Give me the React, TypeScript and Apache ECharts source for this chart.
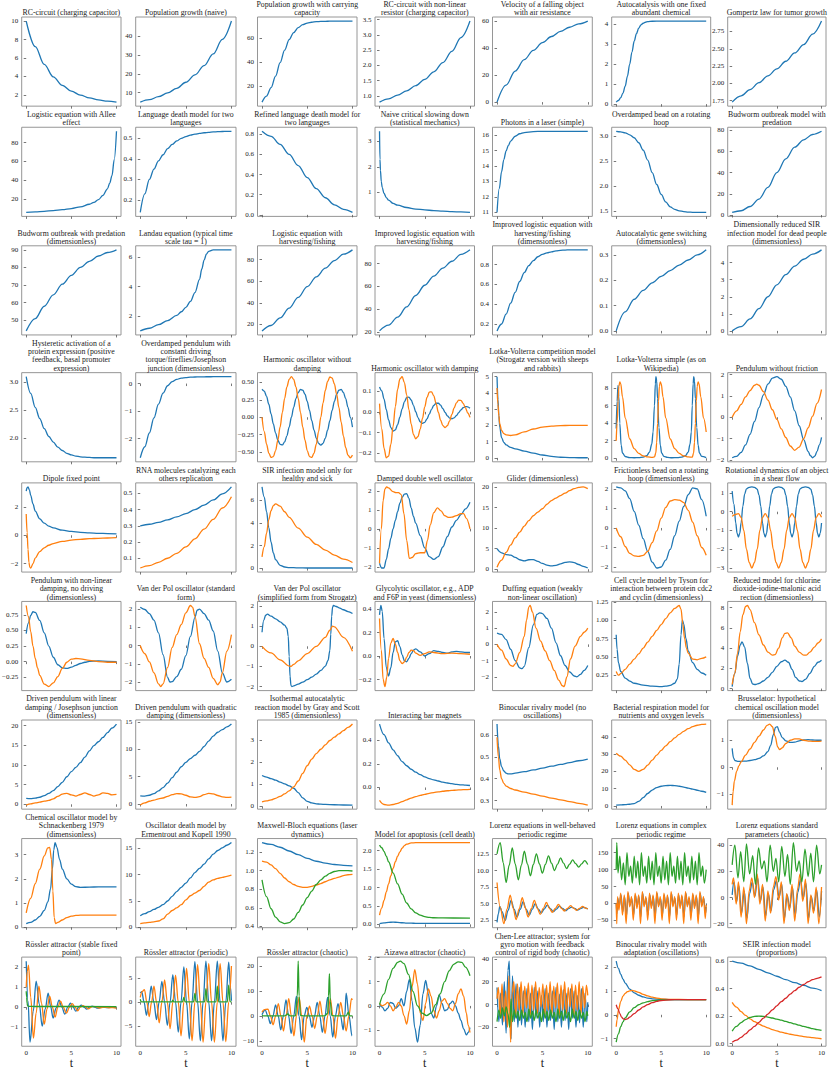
import React, { useEffect, useRef } from "react";
import * as echarts from "echarts";

type Pt = [number, number];
type S = number[] | Pt[];

// ---------------- Row 1 ----------------
const rcCharge = [10, 7.23, 5.3, 3.96, 3.04, 2.41, 1.98, 1.67, 1.46, 1.32, 1.22];
const popNaive = [5, 6.27, 7.85, 9.84, 12.3, 15.5, 19.4, 24.3, 30.5, 38.2, 47.9];
const popCapacity = [7, 12, 19, 28.5, 39.6, 50, 58.7, 64.5, 68.6, 71, 72.3, 73, 73.5, 73.7, 73.8, 73.9, 74, 74, 74, 74, 74];
const rcNonlinear = [0.8, 0.908, 1.026, 1.166, 1.338, 1.543, 1.791, 2.093, 2.459, 2.911, 3.45];
const fallingVelocity = [0, 12.7, 23.1, 31.6, 38.5, 44.2, 48.8, 52.6, 55.7, 58.2, 60.3];
const autocatalysis: Pt[] = [[0, 0.1], [0.25, 0.18], [0.5, 0.32], [0.75, 0.55], [1, 0.9], [1.25, 1.4], [1.5, 2.0], [1.75, 2.6], [2, 3.14], [2.25, 3.52], [2.5, 3.79], [2.75, 3.96], [3, 4.04], [3.25, 4.09], [3.5, 4.12], [4, 4.14], [5, 4.15], [10, 4.15]];
const gompertz = [1.73, 1.82, 1.91, 2.01, 2.11, 2.21, 2.32, 2.44, 2.56, 2.71, 2.9];

// ---------------- Row 2 ----------------
const allee: Pt[] = [[0, 6], [1, 6.5], [2, 7.1], [3, 7.9], [4, 8.8], [5, 10], [6, 11.8], [7, 14.6], [7.5, 16.6], [8, 19.5], [8.5, 24], [9, 31], [9.25, 37], [9.5, 45], [9.75, 62], [10, 92]];
const langDeath = [0.14, 0.23, 0.3, 0.35, 0.39, 0.42, 0.45, 0.47, 0.487, 0.5, 0.508, 0.515, 0.52, 0.524, 0.527, 0.529, 0.531, 0.532, 0.533, 0.534, 0.534];
const langRefined = [0.83, 0.78, 0.7, 0.6, 0.49, 0.37, 0.26, 0.17, 0.1, 0.055, 0.025];
const slowingDown: Pt[] = [[0, 3.4], [0.05, 2.3], [0.1, 1.87], [0.2, 1.42], [0.3, 1.19], [0.5, 0.96], [0.75, 0.8], [1, 0.7], [1.5, 0.57], [2, 0.5], [3, 0.41], [4, 0.35], [5, 0.315], [6, 0.29], [7, 0.27], [8, 0.25], [9, 0.235], [10, 0.22]];
const laserPhotons: Pt[] = [[0, 11], [0.25, 12.55], [0.5, 13.64], [0.75, 14.42], [1, 14.98], [1.25, 15.34], [1.5, 15.62], [2, 15.93], [2.5, 16.09], [3, 16.17], [4, 16.23], [5, 16.25], [10, 16.25]];
const beadHoop = [3.1, 3.09, 3.07, 3.03, 2.97, 2.87, 2.72, 2.52, 2.27, 2.03, 1.83, 1.68, 1.58, 1.53, 1.5, 1.485, 1.475, 1.47, 1.47, 1.47, 1.47];
const budworm = [2.5, 4, 8, 15, 26, 40, 53, 64, 71, 76, 79];

// ---------------- Row 3 ----------------
const budwormDimless = [44, 51, 58, 64.5, 70.5, 75.5, 80, 83.5, 86.5, 88.5, 90];
const landau: Pt[] = [[0, 1.0], [1, 1.18], [2, 1.42], [3, 1.7], [4, 2.05], [4.5, 2.3], [5, 2.6], [5.5, 3.0], [6, 3.6], [6.5, 4.5], [6.75, 5.2], [7, 5.8], [7.25, 6.2], [7.5, 6.4], [8, 6.5], [9, 6.5], [10, 6.5]];
const logHarvest = [14, 19, 26, 35, 45, 55, 64, 72, 79, 85, 89];
const improvedHarvest = [21, 26, 33, 42, 52, 61, 69, 76, 82, 88, 92];
const improvedDimless = [0.13, 0.2, 0.3, 0.41, 0.52, 0.63, 0.72, 0.79, 0.84, 0.88, 0.905, 0.92, 0.93, 0.94, 0.945, 0.948, 0.95, 0.95, 0.95, 0.95, 0.95];
const geneSwitch = [0, 0.075, 0.125, 0.16, 0.19, 0.215, 0.238, 0.26, 0.28, 0.3, 0.32];
const sirDead = [0, 0.25, 0.7, 1.3, 2.0, 2.7, 3.3, 3.8, 4.2, 4.5, 4.75];

// ---------------- Row 4 ----------------
const hysteretic = [3.1, 2.8, 2.55, 2.35, 2.17, 2.03, 1.93, 1.84, 1.78, 1.73, 1.7, 1.68, 1.665, 1.66, 1.655, 1.65, 1.65, 1.65, 1.65, 1.65, 1.65];
const overdampedPend = [-2.7, -2.3, -1.8, -1.25, -0.75, -0.35, -0.08, 0.07, 0.15, 0.2, 0.22, 0.235, 0.24, 0.245, 0.247, 0.248, 0.25, 0.25, 0.25, 0.25, 0.25];
const harmonicX = [0.4, 0.374, 0.299, 0.186, 0.048, -0.096, -0.227, -0.329, -0.388, -0.397, -0.354, -0.266, -0.141, 0, 0.142, 0.266, 0.354, 0.397, 0.388, 0.329, 0.227, 0.096, -0.048, -0.186, -0.3, -0.374, -0.4, -0.374, -0.298, -0.186, -0.048, 0.096, 0.227, 0.329, 0.388, 0.397, 0.354, 0.265, 0.142, 0, -0.142];
const harmonicV = [0, -0.206, -0.385, -0.513, -0.576, -0.563, -0.477, -0.329, -0.139, 0.07, 0.27, 0.433, 0.542, 0.58, 0.542, 0.434, 0.27, 0.07, -0.139, -0.329, -0.477, -0.563, -0.576, -0.513, -0.385, -0.206, 0, 0.206, 0.387, 0.513, 0.576, 0.563, 0.477, 0.329, 0.139, -0.07, -0.27, -0.434, -0.542, -0.58, -0.542];
const dampedX = [0.12, 0.1017, 0.0617, 0.0107, -0.0388, -0.0757, -0.0925, -0.087, -0.0618, -0.0249, 0.015, 0.0485, 0.0683, 0.0711, 0.0574, 0.0316, 0.0007, -0.0277, -0.0478, -0.0557, -0.0503, -0.0338, -0.0108, 0.0125, 0.0316, 0.0417, 0.0417, 0.0323, 0.0159, -0.0027, -0.019, -0.0301, -0.0333, -0.0288, -0.0183, -0.0041, 0.0096, 0.0202, 0.0254, 0.0244, 0.0179];
const dampedV = [0.04, -0.082, -0.176, -0.2215, -0.2135, -0.1576, -0.0705, 0.0257, 0.1088, 0.1589, 0.1699, 0.1413, 0.0825, 0.0102, -0.0588, -0.1092, -0.1297, -0.1193, -0.083, -0.0315, 0.0239, 0.0695, 0.0955, 0.0968, 0.077, 0.0408, -0.0016, -0.0403, -0.0665, -0.0754, -0.0666, -0.0433, -0.0121, 0.0194, 0.0438, 0.0565, 0.0552, 0.0415, 0.0194, -0.0053, -0.0267];
const lvCompA: Pt[] = [[0, 5.0], [0.1, 3.6], [0.2, 2.6], [0.3, 1.9], [0.5, 1.25], [0.75, 0.95], [1, 0.8], [1.5, 0.65], [2, 0.56], [3, 0.42], [4, 0.3], [5, 0.18], [6, 0.09], [7, 0.04], [8, 0.02], [9, 0.01], [10, 0.01]];
const lvCompB: Pt[] = [[0, 4.3], [0.1, 3.3], [0.2, 2.6], [0.3, 2.1], [0.5, 1.7], [0.75, 1.5], [1, 1.42], [1.5, 1.38], [2, 1.42], [3, 1.6], [4, 1.78], [5, 1.9], [6, 1.96], [7, 1.99], [8, 2.0], [9, 2.0], [10, 2.0]];
const lvPrey: Pt[] = [[0, 3.4], [0.1, 6.5], [0.2, 8.3], [0.3, 7.0], [0.4, 4.0], [0.55, 1.5], [0.7, 0.6], [1, 0.2], [1.5, 0.08], [2, 0.06], [2.5, 0.08], [3, 0.14], [3.4, 0.3], [3.7, 0.7], [3.95, 1.6], [4.1, 3.0], [4.25, 6.0], [4.35, 8.5], [4.42, 9.3], [4.5, 8.8], [4.6, 6.8], [4.75, 3.5], [4.9, 1.5], [5.05, 0.6], [5.3, 0.22], [5.7, 0.1], [6.2, 0.06], [6.8, 0.08], [7.3, 0.14], [7.7, 0.3], [8.0, 0.7], [8.2, 1.6], [8.35, 3.0], [8.45, 6.0], [8.55, 8.5], [8.62, 9.3], [8.7, 8.8], [8.8, 6.8], [8.95, 3.5], [9.1, 1.5], [9.25, 0.6], [9.5, 0.22], [10, 0.08]];
const lvPred: Pt[] = [[0, 2.0], [0.1, 4.0], [0.2, 6.5], [0.3, 8.2], [0.4, 8.7], [0.5, 8.5], [0.7, 7.0], [1, 4.6], [1.5, 2.2], [2, 1.1], [2.5, 0.55], [3, 0.28], [3.5, 0.15], [4, 0.1], [4.25, 0.15], [4.4, 0.6], [4.5, 1.8], [4.6, 4.0], [4.7, 6.5], [4.8, 8.2], [4.9, 8.7], [5.0, 8.5], [5.2, 7.0], [5.5, 4.6], [6, 2.2], [6.5, 1.1], [7, 0.55], [7.5, 0.28], [8, 0.15], [8.45, 0.12], [8.6, 0.6], [8.7, 1.8], [8.8, 4.0], [8.9, 6.5], [9.0, 8.2], [9.1, 8.7], [9.2, 8.5], [9.4, 7.0], [9.7, 4.6], [10, 3.0]];
const pendAngle: Pt[] = [[0, -1.9], [0.5, -1.84], [1, -1.65], [1.5, -1.3], [2, -0.8], [2.5, -0.2], [3, 0.45], [3.5, 1.05], [4, 1.55], [4.5, 1.83], [5, 1.9], [5.5, 1.78], [6, 1.45], [6.5, 0.95], [7, 0.3], [7.5, -0.4], [8, -1.05], [8.5, -1.6], [8.75, -1.8], [9, -1.9], [9.25, -1.82], [9.5, -1.6], [9.75, -1.3], [10, -0.95]];
const pendVel: Pt[] = [[0, 0], [0.5, 0.3], [1, 0.6], [1.5, 0.95], [2, 1.25], [2.5, 1.5], [2.75, 1.55], [3, 1.5], [3.5, 1.2], [4, 0.8], [4.5, 0.35], [5, -0.1], [5.5, -0.55], [6, -0.95], [6.5, -1.35], [7, -1.55], [7.5, -1.4], [8, -1.0], [8.5, -0.5], [9, 0.05], [9.5, 0.65], [10, 1.3]];

// ---------------- Row 5 ----------------
const dipoleA: Pt[] = [[0, 3.1], [0.1, 3.35], [0.2, 3.4], [0.35, 3.2], [0.5, 2.8], [0.75, 2.2], [1, 1.7], [1.5, 1.15], [2, 0.85], [2.5, 0.65], [3, 0.52], [4, 0.36], [5, 0.27], [6, 0.21], [7, 0.17], [8, 0.14], [9, 0.12], [10, 0.1]];
const dipoleB: Pt[] = [[0, 1.5], [0.1, 0.2], [0.2, -1.0], [0.3, -1.9], [0.4, -2.25], [0.5, -2.3], [0.75, -2.0], [1, -1.6], [1.5, -1.15], [2, -0.88], [2.5, -0.7], [3, -0.58], [4, -0.43], [5, -0.34], [6, -0.28], [7, -0.24], [8, -0.21], [9, -0.19], [10, -0.17]];
const rnaA = [0.3, 0.31, 0.322, 0.337, 0.355, 0.376, 0.4, 0.428, 0.46, 0.497, 0.54];
const rnaB = [0.04, 0.055, 0.075, 0.1, 0.13, 0.17, 0.22, 0.28, 0.34, 0.41, 0.48];
const sirHealthy: Pt[] = [[0, 7.2], [0.25, 6.3], [0.5, 5.0], [0.75, 3.6], [1, 2.3], [1.25, 1.35], [1.5, 0.75], [2, 0.25], [2.5, 0.1], [3, 0.05], [4, 0.02], [5, 0.01], [10, 0.01]];
const sirSick: Pt[] = [[0, 1.0], [0.25, 1.9], [0.5, 3.1], [0.75, 4.3], [1, 5.1], [1.25, 5.55], [1.5, 5.7], [2, 5.5], [2.5, 5.0], [3, 4.5], [4, 3.55], [5, 2.75], [6, 2.1], [7, 1.6], [8, 1.15], [9, 0.8], [10, 0.5]];
const doubleWellX: Pt[] = [[0, -1.8], [0.25, -2.05], [0.5, -2.05], [0.75, -1.6], [1, -1.05], [1.25, -0.5], [1.5, 0.0], [1.75, 0.45], [2, 0.9], [2.25, 1.35], [2.5, 1.65], [2.75, 1.82], [3, 1.85], [3.25, 1.6], [3.5, 1.1], [3.75, 0.65], [4, 0.3], [4.5, -0.35], [5, -1.0], [5.5, -1.45], [6, -1.6], [6.5, -1.45], [7, -0.95], [7.5, -0.4], [8, 0.1], [8.5, 0.45], [9, 0.75], [9.5, 1.05], [10, 1.4]];
const doubleWellV: Pt[] = [[0, -1.8], [0.2, 0.0], [0.4, 1.5], [0.6, 2.1], [0.8, 2.2], [1.0, 2.15], [1.5, 1.95], [1.8, 1.9], [2.1, 1.9], [2.4, 1.8], [2.7, 0.8], [3.0, -0.6], [3.3, -1.55], [3.6, -1.5], [4.0, -1.3], [4.5, -1.25], [5.0, -1.25], [5.3, -0.6], [5.6, 0.2], [6.0, 0.85], [6.4, 1.1], [6.8, 0.95], [7.2, 0.7], [7.6, 0.6], [8.0, 0.62], [8.5, 0.7], [9.0, 0.8], [9.3, 0.8], [9.6, 0.55], [10, 0.0]];
const gliderA = [5.0, 4.0, 3.55, 3.45, 2.9, 2.3, 2.05, 2.3, 2.35, 1.9, 1.4, 1.0, 0.8, 0.95, 1.3, 1.65, 1.8, 1.6, 1.15, 0.7, 0.3];
const gliderB = [0.5, 2.2, 4.1, 5.9, 7.6, 9.0, 10.5, 11.8, 13.0, 13.9, 14.7, 15.8, 16.7, 17.3, 17.9, 18.5, 19.1, 19.6, 19.9, 20.0, 19.6];
const hoopAngle = [2.1, 2.05, 1.9, 1.5, 0.85, 0.15, -0.55, -1.2, -1.75, -2.05, -2.0, -1.65, -1.1, -0.4, 0.35, 1.1, 1.7, 2.05, 2.0, 1.45, 0.6];
const hoopVel = [0, -0.45, -0.95, -1.3, -1.43, -1.45, -1.4, -1.2, -0.75, -0.15, 0.5, 1.05, 1.38, 1.45, 1.43, 1.3, 0.9, 0.3, -0.4, -1.0, -1.4];
const shearA: Pt[] = [[0, 1.1], [0.2, 0.4], [0.4, -0.6], [0.55, -1.15], [0.7, -1.35], [0.85, -1.15], [1.0, -0.6], [1.2, 0.3], [1.4, 0.95], [1.6, 1.22], [1.9, 1.3], [2.2, 1.32], [2.5, 1.3], [2.8, 1.2], [3.0, 0.9], [3.2, 0.3], [3.4, -0.6], [3.55, -1.15], [3.7, -1.35], [3.85, -1.15], [4.0, -0.6], [4.2, 0.3], [4.4, 0.95], [4.6, 1.22], [4.9, 1.3], [5.2, 1.32], [5.5, 1.3], [5.8, 1.2], [6.0, 0.9], [6.2, 0.3], [6.4, -0.6], [6.55, -1.15], [6.7, -1.35], [6.85, -1.15], [7.0, -0.6], [7.2, 0.3], [7.4, 0.95], [7.6, 1.22], [7.9, 1.3], [8.2, 1.32], [8.5, 1.3], [8.8, 1.2], [9.0, 0.9], [9.2, 0.3], [9.4, -0.6], [9.55, -1.15], [9.7, -1.35], [9.85, -1.15], [10, -0.6]];
const shearB: Pt[] = [[0, -0.25], [0.3, -0.15], [0.7, -0.1], [1.0, -0.3], [1.3, -1.0], [1.6, -2.0], [1.9, -2.7], [2.2, -3.0], [2.5, -2.7], [2.8, -2.0], [3.1, -1.0], [3.4, -0.3], [3.7, -0.1], [4.0, -0.3], [4.3, -1.0], [4.6, -2.0], [4.9, -2.7], [5.2, -3.0], [5.5, -2.7], [5.8, -2.0], [6.1, -1.0], [6.4, -0.3], [6.7, -0.1], [7.0, -0.3], [7.3, -1.0], [7.6, -2.0], [7.9, -2.7], [8.2, -3.0], [8.5, -2.7], [8.8, -2.0], [9.1, -1.0], [9.4, -0.3], [9.7, -0.1], [10, -0.3]];

// ---------------- Row 6 ----------------
const nlDampX: Pt[] = [[0, 0.45], [0.25, 0.62], [0.5, 0.74], [0.75, 0.8], [1, 0.79], [1.5, 0.66], [2, 0.46], [2.5, 0.25], [3, 0.07], [3.5, -0.05], [4, -0.1], [4.5, -0.11], [5, -0.09], [5.5, -0.06], [6, -0.03], [6.5, -0.01], [7, 0.005], [8, 0.01], [9, 0.005], [10, 0.0]];
const nlDampV: Pt[] = [[0, 0.9], [0.25, 0.72], [0.5, 0.48], [0.75, 0.25], [1, 0.05], [1.25, -0.1], [1.5, -0.22], [2, -0.36], [2.5, -0.4], [3, -0.34], [3.5, -0.24], [4, -0.11], [4.5, -0.01], [5, 0.04], [5.5, 0.05], [6, 0.045], [7, 0.02], [8, 0.0], [9, -0.01], [10, -0.01]];
const vdpStdX: Pt[] = [[0, 2.1], [0.5, 1.98], [1, 1.75], [1.5, 1.4], [2, 0.7], [2.5, -0.5], [3, -1.75], [3.25, -2.0], [3.5, -1.98], [4, -1.7], [4.5, -1.3], [5, -0.55], [5.5, 0.5], [6, 1.55], [6.25, 1.95], [6.5, 2.0], [7, 1.75], [7.5, 1.4], [8, 0.8], [8.5, -0.3], [9, -1.5], [9.5, -2.0], [10, -1.85]];
const vdpStdV: Pt[] = [[0, 0], [0.5, -0.45], [1, -0.9], [1.5, -1.5], [2, -2.1], [2.25, -2.25], [2.5, -2.1], [3, -1.2], [3.5, -0.1], [4, 0.6], [4.5, 1.15], [5, 1.8], [5.5, 2.2], [5.75, 2.1], [6, 1.6], [6.5, 0.1], [7, -0.7], [7.5, -1.2], [8, -1.8], [8.5, -2.15], [8.75, -2.0], [9, -1.5], [9.5, -0.3], [10, 0.6]];
const vdpStrogatzX: Pt[] = [[0, 0.7], [0.2, 1.3], [0.4, 1.55], [0.6, 1.6], [1, 1.5], [1.5, 1.37], [2, 1.22], [2.5, 1.05], [2.75, 0.9], [2.9, 0.5], [3.0, -0.5], [3.1, -1.5], [3.2, -1.95], [3.3, -2.0], [3.5, -1.97], [4, -1.88], [4.5, -1.78], [5, -1.66], [5.5, -1.53], [6, -1.38], [6.5, -1.2], [7, -0.98], [7.3, -0.7], [7.5, -0.2], [7.6, 0.6], [7.7, 1.5], [7.8, 1.95], [7.9, 2.03], [8.2, 1.98], [8.6, 1.9], [9, 1.82], [9.5, 1.73], [10, 1.63]];
const vdpStrogatzV: Pt[] = [[0, 0], [1, -0.33], [2, -0.67], [3, -0.98], [3.2, -1.0], [3.5, -0.9], [4, -0.72], [5, -0.36], [6, 0.0], [7, 0.45], [7.5, 0.8], [7.8, 1.0], [8, 0.97], [9, 0.45], [10, -0.25]];
const glycolyticA: Pt[] = [[0, 0.35], [0.15, 0.43], [0.3, 0.38], [0.5, 0.15], [0.75, -0.1], [1.0, -0.17], [1.25, -0.1], [1.5, 0.03], [1.75, 0.12], [2.0, 0.13], [2.25, 0.08], [2.5, 0.01], [2.75, -0.04], [3.0, -0.05], [3.25, -0.02], [3.5, 0.02], [3.75, 0.05], [4.0, 0.06], [4.5, 0.035], [5, 0.0], [5.5, 0.02], [6, 0.045], [6.5, 0.04], [7, 0.03], [7.5, 0.025], [8, 0.035], [8.5, 0.04], [9, 0.035], [9.5, 0.03], [10, 0.03]];
const glycolyticB: Pt[] = [[0, 0.32], [0.2, 0.05], [0.4, -0.2], [0.6, -0.26], [0.8, -0.18], [1.0, -0.02], [1.25, 0.11], [1.5, 0.15], [1.75, 0.1], [2.0, 0.03], [2.25, -0.04], [2.5, -0.065], [2.75, -0.05], [3.0, -0.01], [3.25, 0.03], [3.5, 0.05], [3.75, 0.045], [4, 0.025], [4.5, 0.005], [5, 0.02], [5.5, 0.035], [6, 0.03], [7, 0.02], [8, 0.025], [9, 0.02], [10, 0.015]];
const duffingX: Pt[] = [[0, 0.7], [0.5, 0.62], [1, 0.3], [1.5, -0.3], [2, -1.0], [2.5, -1.45], [2.75, -1.5], [3, -1.35], [3.5, -0.2], [4, 1.2], [4.4, 1.85], [4.7, 1.95], [5, 1.9], [5.5, 1.6], [6, 1.0], [6.5, 0.1], [7, -0.7], [7.5, -1.3], [8, -1.7], [8.5, -1.95], [8.8, -2.0], [9.2, -1.85], [9.6, -1.6], [10, -1.3]];
const duffingV: Pt[] = [[0, 0], [0.5, -0.35], [1, -0.9], [1.5, -1.3], [1.75, -1.35], [2, -1.2], [2.5, -0.5], [3, 0.5], [3.25, 1.5], [3.5, 2.3], [3.65, 2.4], [3.9, 2.0], [4.3, 1.0], [4.8, 0.2], [5.3, -0.4], [5.8, -1.0], [6.3, -1.6], [6.8, -2.2], [7.2, -2.55], [7.4, -2.6], [7.7, -2.0], [8.1, -0.9], [8.6, -0.1], [9.2, 0.5], [9.6, 0.75], [10, 1.0]];
const tysonA: Pt[] = [[0, 0.8], [0.1, 0.6], [0.25, 0.42], [0.5, 0.3], [1, 0.21], [1.5, 0.17], [2, 0.14], [3, 0.115], [4, 0.1], [5, 0.095], [5.5, 0.1], [6, 0.11], [6.5, 0.14], [6.8, 0.2], [7.0, 0.4], [7.2, 0.8], [7.35, 1.0], [7.5, 0.95], [7.75, 0.75], [8, 0.58], [8.5, 0.42], [9, 0.33], [9.5, 0.28], [10, 0.25]];
const tysonB: Pt[] = [[0, 0.3], [0.25, 0.25], [0.5, 0.27], [1, 0.33], [1.5, 0.4], [2, 0.47], [2.5, 0.54], [3, 0.62], [3.5, 0.7], [4, 0.78], [4.5, 0.86], [5, 0.94], [5.5, 1.02], [6, 1.1], [6.5, 1.16], [7.0, 1.2], [7.2, 1.15], [7.4, 0.95], [7.6, 0.75], [7.8, 0.62], [8.0, 0.55], [8.5, 0.47], [9, 0.46], [9.5, 0.48], [10, 0.5]];
const cdimaA: Pt[] = [[0, 0.2], [0.3, 1.5], [0.6, 3.2], [0.9, 4.3], [1.1, 4.6], [1.4, 4.1], [1.7, 2.5], [2.0, 1.0], [2.3, 0.45], [2.6, 0.4], [3, 0.5], [3.5, 0.75], [4, 1.1], [4.5, 1.6], [5, 2.2], [5.5, 2.65], [5.9, 2.8], [6.3, 2.6], [6.7, 1.9], [7.1, 1.1], [7.5, 0.75], [7.8, 0.7], [8.2, 0.9], [8.7, 1.5], [9.2, 2.2], [9.6, 2.6], [10, 2.8]];
const cdimaB: Pt[] = [[0, 0.4], [0.3, 1.5], [0.6, 3.5], [0.9, 5.6], [1.2, 7.3], [1.5, 8.1], [1.7, 8.2], [2.0, 7.8], [2.5, 6.5], [3, 5.3], [3.5, 4.3], [4, 3.6], [4.5, 3.3], [4.8, 3.35], [5.2, 4.0], [5.6, 5.0], [5.9, 5.45], [6.2, 5.5], [6.6, 5.0], [7.0, 4.2], [7.5, 3.6], [8, 3.3], [8.3, 3.3], [8.7, 3.6], [9.2, 4.1], [9.6, 4.5], [10, 4.9]];

// ---------------- Row 7 ----------------
const drivenLinA = [1.5, 1.45, 1.55, 1.8, 2.2, 2.8, 3.5, 4.5, 5.6, 7.0, 8.3, 9.4, 10.6, 12.0, 13.6, 14.9, 15.9, 17.0, 18.2, 19.4, 20.4];
const drivenLinB = [-0.2, 0.1, 0.35, 0.55, 0.8, 1.0, 1.4, 2.0, 2.6, 2.8, 2.4, 2.1, 2.5, 2.9, 2.5, 2.1, 2.4, 2.9, 2.8, 2.4, 2.5];
const drivenQuadA = [1.5, 1.45, 1.6, 1.9, 2.4, 3.0, 3.8, 4.8, 5.8, 6.8, 7.6, 8.3, 8.9, 9.6, 10.5, 11.5, 12.4, 13.1, 13.6, 14.1, 14.6];
const drivenQuadB = [-0.2, 0.2, 0.5, 0.7, 0.95, 1.1, 1.4, 1.7, 1.9, 1.85, 1.6, 1.3, 1.2, 1.35, 1.7, 1.95, 1.85, 1.55, 1.3, 1.2, 1.25];
const grayScottA: Pt[] = [[0, 1.4], [0.5, 1.33], [1, 1.26], [1.5, 1.19], [2, 1.1], [2.5, 1.02], [3, 0.93], [3.5, 0.82], [4, 0.62], [4.5, 0.38], [5, 0.22], [5.5, 0.15], [6, 0.11], [6.5, 0.09], [7, 0.08], [8, 0.065], [9, 0.055], [10, 0.05]];
const grayScottB = [0.2, 0.24, 0.29, 0.36, 0.45, 0.56, 0.7, 0.88, 1.15, 1.5, 1.85, 2.15, 2.4, 2.6, 2.8, 3.0, 3.15, 3.3, 3.45, 3.6, 3.75];
const magnetsA = [0.54, 0.45, 0.38, 0.32, 0.27, 0.22, 0.185, 0.155, 0.13, 0.11, 0.09, 0.075, 0.065, 0.055, 0.045, 0.038, 0.032, 0.027, 0.023, 0.02, 0.017];
const magnetsB = [-0.11, -0.145, -0.15, -0.145, -0.135, -0.12, -0.105, -0.09, -0.078, -0.067, -0.058, -0.05, -0.043, -0.037, -0.032, -0.028, -0.025, -0.022, -0.02, -0.018, -0.016];
const rivalryA: Pt[] = [[0, 0.65], [0.15, 0.55], [0.3, 0.49], [0.5, 0.455], [0.75, 0.435], [1, 0.425], [1.25, 0.422], [1.5, 0.422], [2, 0.425], [3, 0.432], [4, 0.44], [5, 0.448], [6, 0.457], [7, 0.465], [8, 0.473], [9, 0.482], [10, 0.49]];
const rivalryB: Pt[] = [[0, 0.59], [0.15, 0.5], [0.3, 0.44], [0.5, 0.4], [0.75, 0.378], [1, 0.366], [1.5, 0.355], [2, 0.348], [3, 0.338], [4, 0.329], [5, 0.32], [6, 0.311], [7, 0.303], [8, 0.295], [9, 0.287], [10, 0.279]];
const bacteriaA = [0.5, 0.6, 0.8, 1.0, 1.4, 2.6, 4.8, 7.2, 9.2, 10.6, 11.4, 11.8, 11.9, 11.8, 11.4, 10.9, 10.3, 9.7, 9.1, 8.5, 7.9];
const bacteriaB = [30.5, 28.8, 26.5, 23.8, 21.2, 20.0, 21.2, 23.6, 26.5, 29.4, 32.2, 34.8, 37.2, 39.4, 41.4, 43.2, 44.7, 45.9, 46.7, 47.2, 47.4];
const brusselA: Pt[] = [[0, 0.7], [0.15, 0.35], [0.3, 0.25], [0.6, 0.22], [1, 0.22], [1.5, 0.23], [2, 0.25], [2.5, 0.28], [3, 0.33], [3.5, 0.42], [4, 0.58], [4.3, 0.8], [4.6, 1.2], [4.85, 1.48], [5.05, 1.5], [5.3, 1.3], [5.6, 1.1], [6, 0.98], [6.5, 0.92], [7, 0.93], [7.5, 0.98], [8, 1.01], [8.5, 1.02], [9, 1.01], [9.5, 1.0], [10, 1.0]];
const brusselB: Pt[] = [[0, -1.4], [0.1, -0.9], [0.25, -0.5], [0.5, -0.15], [0.75, 0.05], [1, 0.2], [1.5, 0.45], [2, 0.68], [2.5, 0.92], [3, 1.15], [3.5, 1.38], [3.9, 1.55], [4.2, 1.6], [4.5, 1.5], [4.8, 1.15], [5.1, 0.75], [5.3, 0.65], [5.6, 0.72], [6, 0.88], [6.5, 1.0], [7, 1.05], [7.5, 1.05], [8, 1.0], [8.5, 0.97], [9, 0.96], [9.5, 0.96], [10, 0.97]];

// ---------------- Row 8 ----------------
const schnackA: Pt[] = [[0, 0.15], [0.5, 0.2], [1, 0.3], [1.5, 0.45], [2, 0.7], [2.4, 1.05], [2.7, 1.6], [2.9, 2.4], [3.05, 3.2], [3.2, 3.5], [3.4, 3.3], [3.7, 2.8], [4, 2.4], [4.5, 2.0], [5, 1.78], [5.5, 1.68], [6, 1.65], [7, 1.66], [8, 1.67], [9, 1.67], [10, 1.67]];
const schnackB: Pt[] = [[0, 0.6], [0.5, 1.2], [1, 1.8], [1.5, 2.4], [2, 2.95], [2.4, 3.28], [2.6, 3.3], [2.8, 2.8], [2.95, 1.5], [3.1, 0.4], [3.25, 0.15], [3.5, 0.2], [4, 0.3], [4.5, 0.4], [5, 0.46], [5.5, 0.49], [6, 0.5], [7, 0.5], [8, 0.5], [9, 0.5], [10, 0.5]];
const deathA = [2.2, 2.6, 3.0, 3.4, 3.8, 4.3, 5.0, 5.9, 6.8, 7.6, 8.4, 9.4, 10.4, 11.2, 12.0, 13.0, 13.9, 14.6, 15.1, 15.6, 16.1];
const deathB = [0.7, 0.85, 0.95, 1.05, 1.2, 1.6, 2.5, 3.2, 3.7, 4.3, 5.2, 6.0, 6.5, 7.0, 7.8, 8.6, 9.0, 9.3, 9.5, 9.7, 9.9];
const mbA = [1.3, 1.28, 1.25, 1.21, 1.17, 1.13, 1.1, 1.08, 1.065, 1.055, 1.05];
const mbB = [1.1, 1.09, 1.06, 1.02, 0.97, 0.92, 0.88, 0.85, 0.83, 0.82, 0.82, 0.83, 0.845, 0.86, 0.88, 0.9, 0.915, 0.93, 0.945, 0.955, 0.96];
const mbC = [0.9, 0.72, 0.59, 0.5, 0.45, 0.43, 0.44, 0.48, 0.55, 0.63, 0.71, 0.78, 0.85, 0.9, 0.94, 0.97, 0.99, 1.0, 1.0, 1.0, 0.995];
const apoA = [0.02, 0.04, 0.055, 0.06, 0.055, 0.045, 0.035, 0.032, 0.03, 0.029, 0.028, 0.028, 0.027, 0.027, 0.027, 0.027, 0.027, 0.027, 0.027, 0.027, 0.027];
const apoB: Pt[] = [[0, 0.25], [0.25, 0.45], [0.5, 0.65], [0.75, 0.88], [1, 1.1], [1.25, 1.32], [1.5, 1.52], [1.75, 1.7], [2, 1.85], [2.25, 1.97], [2.5, 2.07], [2.75, 2.14], [3, 2.18], [3.5, 2.21], [4, 2.22], [10, 2.22]];
const apoC: Pt[] = [[0, 2.15], [0.25, 2.08], [0.5, 1.98], [0.75, 1.85], [1, 1.7], [1.5, 1.4], [2, 1.1], [2.5, 0.82], [3, 0.58], [3.5, 0.42], [4, 0.31], [4.5, 0.25], [5, 0.21], [5.5, 0.19], [6, 0.18], [7, 0.175], [10, 0.17]];
const lorenzPerX: Pt[] = [[0, 2.2], [0.15, 3.5], [0.3, 4.6], [0.55, 3.8], [0.9, 2.5], [1.22, 4.0], [1.55, 5.5], [1.88, 4.2], [2.2, 3.0], [2.55, 4.15], [2.88, 5.3], [3.2, 4.2], [3.55, 3.3], [3.88, 4.15], [4.21, 5.0], [4.55, 4.2], [4.88, 3.6], [5.2, 4.2], [5.54, 4.8], [5.88, 4.25], [6.2, 3.8], [6.55, 4.2], [6.87, 4.65], [7.2, 4.3], [7.55, 3.95], [7.88, 4.25], [8.2, 4.5], [8.55, 4.3], [8.88, 4.05], [9.2, 4.25], [9.53, 4.45], [9.8, 4.35], [10, 4.2]];
const lorenzPerY: Pt[] = [[0, 8.2], [0.35, 4.5], [0.75, 2.0], [1.1, 4.2], [1.45, 6.3], [1.78, 4.3], [2.1, 2.6], [2.45, 4.25], [2.78, 5.9], [3.1, 4.4], [3.43, 3.0], [3.77, 4.25], [4.11, 5.5], [4.44, 4.3], [4.76, 3.4], [5.1, 4.3], [5.44, 5.2], [5.77, 4.3], [6.09, 3.7], [6.43, 4.3], [6.77, 4.9], [7.1, 4.3], [7.42, 3.9], [7.76, 4.3], [8.1, 4.7], [8.43, 4.35], [8.75, 4.0], [9.1, 4.3], [9.43, 4.6], [9.75, 4.35], [10, 4.2]];
const lorenzPerZ: Pt[] = [[0, 12.5], [0.35, 14.2], [0.68, 11.2], [1.0, 8.2], [1.34, 10.8], [1.68, 13.4], [2.0, 11.0], [2.35, 8.6], [2.68, 10.8], [3.01, 12.9], [3.35, 11.0], [3.68, 9.2], [4.0, 10.9], [4.34, 12.5], [4.67, 11.0], [5.0, 9.6], [5.33, 10.9], [5.67, 12.2], [6.0, 11.1], [6.33, 10.0], [6.67, 10.95], [7.0, 11.9], [7.33, 11.1], [7.66, 10.3], [8.0, 10.95], [8.33, 11.6], [8.66, 11.05], [9.0, 10.5], [9.33, 11.0], [9.66, 11.5], [10, 10.9]];
const lorenzCxX: Pt[] = [[0, 0], [0.08, -30], [0.18, 15], [0.33, -10], [0.53, 25], [0.73, -25], [0.93, 20], [1.13, -40], [1.33, 30], [1.53, -5], [1.73, 15], [1.93, -35], [2.13, 25], [2.33, -8], [2.53, 20], [2.73, -40], [2.93, 30], [3.13, -5], [3.33, 15], [3.53, -35], [3.73, 25], [3.93, -8], [4.13, 20], [4.33, -40], [4.53, 30], [4.73, -5], [4.93, 15], [5.13, -35], [5.33, 25], [5.53, -8], [5.73, 20], [5.93, -40], [6.13, 30], [6.33, -5], [6.53, 15], [6.73, -35], [6.93, 25], [7.13, -8], [7.33, 20], [7.53, -40], [7.73, 30], [7.93, -5], [8.13, 15], [8.33, -35], [8.53, 25], [8.73, -8], [8.93, 20], [9.13, -40], [9.33, 30], [9.53, -5], [9.73, 15], [9.93, -30], [10, -10]];
const lorenzCxY: Pt[] = [[0, 0], [0.06, -60], [0.15, 20], [0.3, -20], [0.5, 30], [0.7, -35], [0.9, 25], [1.1, -60], [1.3, 35], [1.5, -10], [1.7, 20], [1.9, -50], [2.1, 30], [2.3, -15], [2.5, 25], [2.7, -60], [2.9, 35], [3.1, -10], [3.3, 20], [3.5, -50], [3.7, 30], [3.9, -15], [4.1, 25], [4.3, -60], [4.5, 35], [4.7, -10], [4.9, 20], [5.1, -50], [5.3, 30], [5.5, -15], [5.7, 25], [5.9, -60], [6.1, 35], [6.3, -10], [6.5, 20], [6.7, -50], [6.9, 30], [7.1, -15], [7.3, 25], [7.5, -60], [7.7, 35], [7.9, -10], [8.1, 20], [8.3, -50], [8.5, 30], [8.7, -15], [8.9, 25], [9.1, -60], [9.3, 35], [9.5, -10], [9.7, 20], [9.9, -45], [10, -5]];
const lorenzCxZ: Pt[] = [[0, 100], [0.06, 180], [0.2, 90], [0.4, 140], [0.6, 70], [0.8, 120], [1.0, 55], [1.2, 150], [1.4, 80], [1.6, 110], [1.8, 60], [2.0, 140], [2.2, 75], [2.4, 125], [2.6, 55], [2.8, 150], [3.0, 80], [3.2, 110], [3.4, 60], [3.6, 140], [3.8, 70], [4.0, 125], [4.2, 55], [4.4, 150], [4.6, 80], [4.8, 110], [5.0, 60], [5.2, 140], [5.4, 70], [5.6, 125], [5.8, 55], [6.0, 150], [6.2, 80], [6.4, 110], [6.6, 60], [6.8, 140], [7.0, 70], [7.2, 125], [7.4, 55], [7.6, 150], [7.8, 80], [8.0, 110], [8.2, 60], [8.4, 140], [8.6, 70], [8.8, 125], [9.0, 55], [9.2, 150], [9.4, 80], [9.6, 110], [9.8, 60], [10, 100]];
const lorenzChX: Pt[] = [[0, 2], [0.2, 12], [0.5, -3], [0.75, 9], [1.05, -12], [1.35, 5], [1.65, -16], [1.95, 3], [2.25, 12], [2.55, 1], [2.85, 15], [3.15, -3], [3.45, 8], [3.75, -14], [4.05, 3], [4.35, -10], [4.65, 6], [4.95, 13], [5.25, 0], [5.55, 10], [5.85, -16], [6.15, 2], [6.45, -8], [6.75, 8], [7.05, -14], [7.35, 4], [7.65, 14], [7.95, -1], [8.25, 11], [8.55, -16], [8.85, 1], [9.15, -10], [9.45, 6], [9.75, -15], [10, 5]];
const lorenzChY: Pt[] = [[0, 10], [0.15, 15], [0.45, -5], [0.7, 12], [1.0, -15], [1.3, 8], [1.6, -20], [1.9, 5], [2.2, 15], [2.5, 0], [2.8, 18], [3.1, -5], [3.4, 10], [3.7, -18], [4.0, 5], [4.3, -12], [4.6, 8], [4.9, 16], [5.2, -2], [5.5, 12], [5.8, -20], [6.1, 3], [6.4, -10], [6.7, 10], [7.0, -18], [7.3, 6], [7.6, 18], [7.9, -3], [8.2, 14], [8.5, -20], [8.8, 2], [9.1, -12], [9.4, 8], [9.7, -20], [10, 8]];
const lorenzChZ: Pt[] = [[0, 25], [0.3, 40], [0.65, 15], [0.95, 35], [1.3, 12], [1.6, 41], [1.95, 18], [2.3, 32], [2.6, 10], [2.95, 38], [3.3, 22], [3.6, 28], [3.9, 12], [4.25, 40], [4.6, 20], [4.9, 30], [5.2, 12], [5.55, 39], [5.9, 16], [6.2, 33], [6.5, 10], [6.85, 42], [7.2, 20], [7.5, 28], [7.8, 12], [8.15, 37], [8.5, 16], [8.8, 34], [9.1, 12], [9.45, 40], [9.8, 18], [10, 25]];

// ---------------- Row 9 ----------------
const rosStableX: Pt[] = [[0, 2.3], [0.2, 0.3], [0.42, -1.75], [0.78, -0.2], [1.1, 1.3], [1.45, 0.15], [1.77, -0.95], [2.1, -0.1], [2.43, 0.7], [2.7, 0.05], [2.98, -0.55], [3.3, -0.05], [3.64, 0.35], [3.95, 0.0], [4.27, -0.35], [4.6, 0.0], [4.9, 0.2], [5.2, 0.0], [5.5, -0.2], [5.8, 0.0], [6.1, 0.1], [6.4, 0.0], [6.7, -0.1], [7, 0.0], [7.3, 0.05], [7.6, 0.0], [7.9, -0.05], [8.5, 0.0], [9, -0.02], [9.5, 0.0], [10, -0.02]];
const rosStableY: Pt[] = [[0, 1.0], [0.12, 1.8], [0.25, 2.1], [0.5, 0.5], [0.8, -1.55], [1.1, -0.3], [1.4, 1.05], [1.7, 0.2], [2.0, -0.85], [2.3, -0.1], [2.6, 0.55], [2.9, 0.0], [3.2, -0.5], [3.5, 0.0], [3.8, 0.3], [4.1, 0.0], [4.45, -0.3], [4.8, 0.0], [5.1, 0.18], [5.4, 0.0], [5.7, -0.18], [6.0, 0.0], [6.3, 0.08], [6.6, 0.0], [6.9, -0.08], [7.2, 0.0], [7.5, 0.04], [7.8, 0.0], [8.1, -0.04], [8.6, 0.0], [9.2, -0.03], [9.6, -0.02], [10, -0.05]];
const rosStableZ: Pt[] = [[0, 0.8], [0.05, 0.5], [0.1, 0.2], [0.15, 0.07], [0.25, 0.04], [1, 0.035], [10, 0.03]];
const rosPerX: Pt[] = [[0, 1.9], [0.16, 2.2], [0.42, 0], [0.68, -2.7], [0.94, 0], [1.2, 3.3], [1.49, 0], [1.78, -3.6], [2.07, 0], [2.37, 4.3], [2.67, 0], [2.97, -4.8], [3.27, 0], [3.57, 5.7], [3.87, 0], [4.17, -6.2], [4.47, 0], [4.78, 7.3], [5.08, 0], [5.38, -7.6], [5.68, 0], [5.99, 8.4], [6.29, 0], [6.59, -8.0], [6.89, 0], [7.2, 8.5], [7.51, 0], [7.82, -8.0], [8.13, 0], [8.45, 8.5], [8.76, 0], [9.07, -8.0], [9.38, 0], [9.7, 8.3], [9.9, 3.0], [10, 0.3]];
const rosPerY: Pt[] = [[0, 1.0], [0.2, 2.2], [0.46, 2.6], [0.72, 0], [0.98, -3.0], [1.24, 0], [1.5, 3.3], [1.79, 0], [2.08, -4.3], [2.37, 0], [2.67, 4.6], [2.97, 0], [3.27, -5.5], [3.57, 0], [3.87, 5.6], [4.17, 0], [4.47, -7.0], [4.78, 0], [5.08, 7.0], [5.38, 0], [5.68, -8.0], [5.99, 0], [6.29, 7.8], [6.59, 0], [6.89, -8.3], [7.2, 0], [7.51, 8.0], [7.82, 0], [8.13, -8.3], [8.45, 0], [8.76, 8.0], [9.07, 0], [9.38, -8.2], [9.7, 0], [10, 7.5]];
const rosPerZ: Pt[] = [[0, 0.6], [0.1, 0.1], [0.2, 0.05], [1.1, 0.05], [1.2, 0.12], [1.3, 0.05], [2.27, 0.05], [2.37, 0.2], [2.47, 0.05], [3.47, 0.05], [3.57, 0.4], [3.67, 0.05], [4.63, 0.05], [4.78, 1.0], [4.93, 0.05], [5.84, 0.05], [5.99, 1.8], [6.14, 0.05], [7.05, 0.05], [7.2, 2.8], [7.35, 0.05], [8.3, 0.05], [8.45, 3.3], [8.6, 0.05], [9.55, 0.05], [9.7, 3.5], [9.85, 0.1], [10, 0.05]];
const rosChX: Pt[] = [[0, 0.5], [0.35, 2.5], [0.64, 0], [0.92, -3], [1.21, 0], [1.5, 4.5], [1.79, 0], [2.07, -5.5], [2.36, 0], [2.65, 6.5], [2.94, 0], [3.22, -7], [3.51, 0], [3.8, 8.0], [4.09, 0], [4.37, -9.5], [4.66, 0], [4.95, 3.5], [5.24, 0], [5.52, -4.5], [5.81, 0], [6.1, 5.5], [6.39, 0], [6.67, -6.5], [6.96, 0], [7.25, 7.5], [7.54, 0], [7.82, -8.5], [8.11, 0], [8.4, 5.0], [8.69, 0], [8.97, -5.5], [9.15, 0], [9.3, 9.2], [9.62, 0], [9.95, -8], [10, -7.8]];
const rosChY: Pt[] = [[0, 1.5], [0.2, 2.5], [0.65, 2.8], [0.94, 0], [1.22, -3.5], [1.51, 0], [1.8, 5.0], [2.09, 0], [2.37, -6], [2.66, 0], [2.95, 7.0], [3.24, 0], [3.52, -8], [3.81, 0], [4.1, 7.5], [4.39, 0], [4.67, -10.5], [4.96, 0], [5.25, 4.0], [5.54, 0], [5.82, -5], [6.11, 0], [6.4, 6.0], [6.69, 0], [6.97, -7], [7.26, 0], [7.55, 7.0], [7.84, 0], [8.12, -9], [8.41, 0], [8.7, 5.5], [9.0, 0], [9.3, -6], [9.6, 0], [9.9, 7.0], [10, 6.5]];
const rosChZ: Pt[] = [[0, 0.3], [0.2, 0.05], [2.5, 0.05], [2.85, 0.8], [3.1, 0.05], [3.7, 0.1], [3.9, 8], [4.0, 22], [4.1, 8], [4.25, 0.2], [4.6, 0.05], [6.9, 0.05], [7.25, 1.0], [7.35, 8], [7.45, 17], [7.55, 6], [7.7, 0.2], [8, 0.05], [9.3, 0.05], [9.55, 1.5], [9.7, 0.1], [10, 0.05]];
const aizawaX: Pt[] = [[0, 0.05], [0.3, -0.05], [0.6, -0.2], [0.9, -0.1], [1.2, 0.15], [1.5, 0.1], [1.8, -0.1], [2.1, 0.0], [2.4, 0.3], [2.7, 0.0], [3.0, 0.6], [3.3, 1.1], [3.6, 0.2], [3.9, -0.9], [4.2, -1.5], [4.5, -0.8], [4.8, 0.5], [5.1, 1.05], [5.4, 0.5], [5.7, -0.3], [6.0, -0.5], [6.3, 0.0], [6.6, 0.45], [6.9, 0.1], [7.2, -0.2], [7.5, -0.15], [7.8, 0.1], [8.1, 0.2], [8.4, 0.0], [8.7, -0.3], [9.0, -0.6], [9.3, -0.95], [9.6, -1.2], [9.8, -1.1], [10, -0.9]];
const aizawaY: Pt[] = [[0, 0.1], [0.3, 0.0], [0.6, 0.05], [0.9, 0.15], [1.2, 0.0], [1.5, -0.2], [1.8, -0.05], [2.1, 0.15], [2.4, 0.0], [2.7, -0.4], [3.0, -0.75], [3.3, -0.2], [3.6, 0.8], [3.9, 1.5], [4.2, 0.9], [4.5, -0.3], [4.8, -0.6], [5.1, 0.1], [5.4, 0.7], [5.7, 0.4], [6.0, -0.2], [6.3, -0.5], [6.6, -0.2], [6.9, 0.2], [7.2, 0.3], [7.5, 0.1], [7.8, -0.1], [8.1, -0.2], [8.4, 0.1], [8.7, 0.5], [9.0, 0.7], [9.3, 0.4], [9.6, -0.3], [9.8, -0.8], [10, -1.1]];
const aizawaZ: Pt[] = [[0, 0.05], [0.5, 0.5], [1, 1.1], [1.5, 1.55], [2, 1.8], [2.3, 1.85], [2.7, 1.75], [3.2, 1.3], [3.7, 0.6], [4.2, 0.0], [4.7, -0.3], [5.2, -0.4], [5.7, -0.3], [6.2, 0.05], [6.7, 0.5], [7.2, 1.0], [7.7, 1.45], [8.2, 1.72], [8.7, 1.82], [9.1, 1.8], [9.5, 1.6], [10, 1.25]];
const chenX: Pt[] = [[0, 15], [0.2, -15], [0.4, 10], [0.6, -18], [0.8, 20], [1.0, -25], [1.2, 30], [1.35, 38], [1.45, -10], [1.55, -30], [1.7, 25], [1.9, -15], [2.1, 18], [2.3, -20], [2.5, 15], [2.7, -18], [2.9, 12], [3.1, -20], [3.3, 14], [3.5, -15], [3.7, 10], [3.9, -22], [4.1, 15], [4.3, -12], [4.5, 12], [4.7, -20], [4.9, 8], [5.1, -15], [5.3, 14], [5.5, -20], [5.7, 10], [5.9, -14], [6.1, 12], [6.3, -22], [6.5, 15], [6.7, -15], [6.9, 9], [7.1, -20], [7.3, 13], [7.5, -14], [7.7, 10], [7.9, -22], [8.1, 14], [8.3, -12], [8.5, 12], [8.7, -20], [8.9, 8], [9.1, -16], [9.3, 14], [9.5, -20], [9.7, 10], [9.9, -15], [10, 2]];
const chenY: Pt[] = [[0, 5], [0.15, 15], [0.35, -10], [0.55, 18], [0.75, -15], [0.95, 12], [1.15, -20], [1.3, 25], [1.5, -33], [1.65, 10], [1.85, 20], [2.05, -10], [2.25, 18], [2.45, -5], [2.65, 20], [2.85, -8], [3.05, 16], [3.25, -3], [3.45, 19], [3.65, -10], [3.85, 17], [4.05, -5], [4.25, 20], [4.45, -8], [4.65, 15], [4.85, -2], [5.05, 18], [5.25, -10], [5.45, 17], [5.65, -5], [5.85, 20], [6.05, -8], [6.25, 16], [6.45, -3], [6.65, 19], [6.85, -10], [7.05, 17], [7.25, -5], [7.45, 20], [7.65, -8], [7.85, 15], [8.05, -2], [8.25, 18], [8.45, -10], [8.65, 17], [8.85, -5], [9.05, 20], [9.25, -8], [9.45, 16], [9.65, -3], [9.85, 17], [10, 8]];
const chenZ: Pt[] = [[0, -15], [0.2, -5], [0.4, -12], [0.6, -3], [0.8, -10], [1.0, -2], [1.2, -8], [1.4, -20], [1.55, 5], [1.7, -15], [1.9, -5], [2.1, -12], [2.3, -6], [2.5, -14], [2.7, -5], [2.9, -12], [3.1, -7], [3.3, -15], [3.5, -4], [3.7, -12], [3.9, -6], [4.1, -14], [4.3, -5], [4.5, -12], [4.7, -7], [4.9, -15], [5.1, -4], [5.3, -12], [5.5, -6], [5.7, -14], [5.9, -5], [6.1, -12], [6.3, -7], [6.5, -15], [6.7, -4], [6.9, -12], [7.1, -6], [7.3, -14], [7.5, -5], [7.7, -12], [7.9, -7], [8.1, -15], [8.3, -4], [8.5, -12], [8.7, -6], [8.9, -14], [9.1, -5], [9.3, -12], [9.5, -7], [9.7, -15], [9.9, -6], [10, -10]];
const rivalryAdA: Pt[] = [[0, 2.25], [0.25, 1.95], [0.5, 1.7], [0.75, 1.5], [1, 1.33], [1.5, 1.08], [2, 0.92], [2.5, 0.82], [3, 0.75], [3.5, 0.7], [4, 0.67], [5, 0.645], [6, 0.64], [8, 0.64], [10, 0.64]];
const rivalryAdB: Pt[] = [[0, -0.5], [0.1, -0.2], [0.25, 0.2], [0.5, 0.55], [0.75, 0.78], [1, 0.9], [1.25, 0.97], [1.5, 1.0], [1.75, 1.02], [2, 1.0], [2.5, 0.94], [3, 0.86], [3.5, 0.79], [4, 0.74], [4.5, 0.7], [5, 0.67], [6, 0.65], [8, 0.64], [10, 0.64]];
const rivalryAdC: Pt[] = [[0, -1.15], [0.25, -0.8], [0.5, -0.5], [0.75, -0.3], [1, -0.13], [1.5, 0.12], [2, 0.3], [2.5, 0.42], [3, 0.5], [3.5, 0.55], [4, 0.59], [5, 0.62], [6, 0.635], [8, 0.64], [10, 0.64]];
const rivalryAdD: Pt[] = [[0, 0.42], [0.2, 0.25], [0.4, 0.05], [0.6, -0.1], [0.8, -0.17], [1.0, -0.2], [1.25, -0.17], [1.5, -0.1], [2, 0.05], [2.5, 0.2], [3, 0.33], [3.5, 0.43], [4, 0.51], [4.5, 0.56], [5, 0.6], [6, 0.63], [7, 0.64], [8, 0.64], [10, 0.64]];
const seirS = [0.6, 0.585, 0.565, 0.54, 0.515, 0.49, 0.465, 0.443, 0.423, 0.403, 0.385];
const seirE = [0.3, 0.265, 0.232, 0.205, 0.18, 0.16, 0.142, 0.127, 0.114, 0.102, 0.092, 0.083, 0.075, 0.068, 0.062, 0.056, 0.051, 0.047, 0.043, 0.039, 0.035];
const seirI = [0.09, 0.125, 0.153, 0.175, 0.19, 0.198, 0.2, 0.198, 0.193, 0.186, 0.178, 0.17, 0.161, 0.152, 0.143, 0.134, 0.125, 0.117, 0.109, 0.102, 0.096];
const seirR = [0.01, 0.025, 0.045, 0.07, 0.1, 0.125, 0.155, 0.185, 0.215, 0.245, 0.275, 0.305, 0.33, 0.36, 0.385, 0.41, 0.43, 0.45, 0.465, 0.475, 0.485];

// ---------------- Titles (rows of 7) ----------------
const titles = [
  "RC-circuit (charging capacitor)", "Population growth (naive)", "Population growth with carrying\ncapacity", "RC-circuit with non-linear\nresistor (charging capacitor)", "Velocity of a falling object\nwith air resistance", "Autocatalysis with one fixed\nabundant chemical", "Gompertz law for tumor growth",
  "Logistic equation with Allee\neffect", "Language death model for two\nlanguages", "Refined language death model for\ntwo languages", "Naive critical slowing down\n(statistical mechanics)", "Photons in a laser (simple)", "Overdamped bead on a rotating\nhoop", "Budworm outbreak model with\npredation",
  "Budworm outbreak with predation\n(dimensionless)", "Landau equation (typical time\nscale tau = 1)", "Logistic equation with\nharvesting/fishing", "Improved logistic equation with\nharvesting/fishing", "Improved logistic equation with\nharvesting/fishing\n(dimensionless)", "Autocatalytic gene switching\n(dimensionless)", "Dimensionally reduced SIR\ninfection model for dead people\n(dimensionless)",
  "Hysteretic activation of a\nprotein expression (positive\nfeedback, basal promoter\nexpression)", "Overdamped pendulum with\nconstant driving\ntorque/fireflies/Josephson\njunction (dimensionless)", "Harmonic oscillator without\ndamping", "Harmonic oscillator with damping", "Lotka-Volterra competition model\n(Strogatz version with sheeps\nand rabbits)", "Lotka-Volterra simple (as on\nWikipedia)", "Pendulum without friction",
  "Dipole fixed point", "RNA molecules catalyzing each\nothers replication", "SIR infection model only for\nhealthy and sick", "Damped double well oscillator", "Glider (dimensionless)", "Frictionless bead on a rotating\nhoop (dimensionless)", "Rotational dynamics of an object\nin a shear flow",
  "Pendulum with non-linear\ndamping, no driving\n(dimensionless)", "Van der Pol oscillator (standard\nform)", "Van der Pol oscillator\n(simplified form from Strogatz)", "Glycolytic oscillator, e.g., ADP\nand F6P in yeast (dimensionless)", "Duffing equation (weakly\nnon-linear oscillation)", "Cell cycle model by Tyson for\ninteraction between protein cdc2\nand cyclin (dimensionless)", "Reduced model for chlorine\ndioxide-iodine-malonic acid\nrection (dimensionless)",
  "Driven pendulum with linear\ndamping / Josephson junction\n(dimensionless)", "Driven pendulum with quadratic\ndamping (dimensionless)", "Isothermal autocatalytic\nreaction model by Gray and Scott\n1985 (dimensionless)", "Interacting bar magnets", "Binocular rivalry model (no\noscillations)", "Bacterial respiration model for\nnutrients and oxygen levels", "Brusselator: hypothetical\nchemical oscillation model\n(dimensionless)",
  "Chemical oscillator model by\nSchnackenberg 1979\n(dimensionless)", "Oscillator death model by\nErmentrout and Kopell 1990", "Maxwell-Bloch equations (laser\ndynamics)", "Model for apoptosis (cell death)", "Lorenz equations in well-behaved\nperiodic regime", "Lorenz equations in complex\nperiodic regime", "Lorenz equations standard\nparameters (chaotic)",
  "R\u00f6ssler attractor (stable fixed\npoint)", "R\u00f6ssler attractor (periodic)", "R\u00f6ssler attractor (chaotic)", "Aizawa attractor (chaotic)", "Chen-Lee attractor; system for\ngyro motion with feedback\ncontrol of rigid body (chaotic)", "Binocular rivalry model with\nadaptation (oscillations)", "SEIR infection model\n(proportions)",
];

// ---------------- Series per panel ----------------
const panelSeries: S[][] = [
  [rcCharge], [popNaive], [popCapacity], [rcNonlinear], [fallingVelocity], [autocatalysis], [gompertz],
  [allee], [langDeath], [langRefined], [slowingDown], [laserPhotons], [beadHoop], [budworm],
  [budwormDimless], [landau], [logHarvest], [improvedHarvest], [improvedDimless], [geneSwitch], [sirDead],
  [hysteretic], [overdampedPend], [harmonicX, harmonicV], [dampedX, dampedV], [lvCompA, lvCompB], [lvPrey, lvPred], [pendAngle, pendVel],
  [dipoleA, dipoleB], [rnaA, rnaB], [sirHealthy, sirSick], [doubleWellX, doubleWellV], [gliderA, gliderB], [hoopAngle, hoopVel], [shearA, shearB],
  [nlDampX, nlDampV], [vdpStdX, vdpStdV], [vdpStrogatzX, vdpStrogatzV], [glycolyticA, glycolyticB], [duffingX, duffingV], [tysonA, tysonB], [cdimaA, cdimaB],
  [drivenLinA, drivenLinB], [drivenQuadA, drivenQuadB], [grayScottA, grayScottB], [magnetsA, magnetsB], [rivalryA, rivalryB], [bacteriaA, bacteriaB], [brusselA, brusselB],
  [schnackA, schnackB], [deathA, deathB], [mbA, mbB, mbC], [apoA, apoB, apoC], [lorenzPerX, lorenzPerY, lorenzPerZ], [lorenzCxX, lorenzCxY, lorenzCxZ], [lorenzChX, lorenzChY, lorenzChZ],
  [rosStableX, rosStableY, rosStableZ], [rosPerX, rosPerY, rosPerZ], [rosChX, rosChY, rosChZ], [aizawaX, aizawaY, aizawaZ], [chenX, chenY, chenZ], [rivalryAdA, rivalryAdB, rivalryAdC, rivalryAdD], [seirS, seirE, seirI, seirR],
];

// ---------------- Y tick values and decimals ----------------
const yTicks: number[][] = [
  [2, 4, 6, 8, 10], [10, 20, 30, 40], [20, 40, 60], [1, 1.5, 2, 2.5, 3, 3.5], [0, 20, 40, 60], [0, 1, 2, 3, 4], [1.75, 2, 2.25, 2.5, 2.75],
  [20, 40, 60, 80], [0.2, 0.3, 0.4, 0.5], [0, 0.2, 0.4, 0.6, 0.8], [1, 2, 3], [11, 12, 13, 14, 15, 16], [1.5, 2, 2.5, 3], [0, 20, 40, 60, 80],
  [50, 60, 70, 80, 90], [2, 4, 6], [20, 40, 60, 80], [20, 40, 60, 80], [0.2, 0.4, 0.6, 0.8], [0, 0.1, 0.2, 0.3], [0, 1, 2, 3, 4],
  [2, 2.5, 3], [-2, -1, 0], [-0.5, -0.25, 0, 0.25, 0.5], [-0.2, -0.1, 0, 0.1], [0, 1, 2, 3, 4, 5], [0, 2, 4, 6, 8], [-2, -1, 0, 1, 2],
  [-2, 0, 2], [0.1, 0.2, 0.3, 0.4, 0.5], [0, 2, 4, 6], [-2, -1, 0, 1, 2], [0, 5, 10, 15, 20], [-2, -1, 0, 1, 2], [-3, -2, -1, 0, 1],
  [-0.25, 0, 0.25, 0.5, 0.75], [-2, -1, 0, 1, 2], [-2, -1, 0, 1, 2], [-0.2, 0, 0.2, 0.4], [-2, -1, 0, 1, 2], [0.25, 0.5, 0.75, 1, 1.25], [0, 2, 4, 6, 8],
  [0, 5, 10, 15, 20], [0, 5, 10, 15], [0, 1, 2, 3], [0, 0.2, 0.4], [0.3, 0.4, 0.5, 0.6], [0, 10, 20, 30, 40], [-1, 0, 1],
  [0, 1, 2, 3], [0, 5, 10, 15], [0.4, 0.6, 0.8, 1, 1.2], [0, 0.5, 1, 1.5, 2], [2.5, 5, 7.5, 10, 12.5], [-50, 0, 50, 100, 150], [-20, 0, 20, 40],
  [-1, 0, 1, 2], [-5, 0, 5], [-10, 0, 10, 20], [-1, 0, 1, 2], [-20, 0, 20, 40], [-1, 0, 1, 2], [0, 0.2, 0.4, 0.6],
];
const yDecimals = [
  0, 0, 0, 1, 0, 0, 2,
  0, 1, 1, 0, 0, 1, 0,
  0, 0, 0, 0, 1, 1, 0,
  1, 0, 2, 1, 0, 0, 0,
  0, 1, 0, 0, 0, 0, 0,
  2, 0, 0, 1, 0, 2, 0,
  0, 0, 0, 1, 1, 0, 0,
  0, 0, 1, 1, 1, 0, 0,
  0, 0, 0, 0, 0, 0, 1,
];
const xTicks = [0, 5, 10];

const COLORS = ["#1f77b4", "#ff7f0e", "#2ca02c", "#d62728"];
const FONT = '"Liberation Serif", "Times New Roman", serif';

function toPairs(s: S): Pt[] {
  if (s.length && Array.isArray(s[0])) return s as Pt[];
  const a = s as number[];
  const n = a.length;
  return a.map((v, i) => [(10 * i) / (n - 1), v] as Pt);
}

function fmt(v: number, d: number): string {
  const s = Math.abs(v).toFixed(d);
  return (v < -1e-9 ? "\u2212" : "") + s;
}

function buildOption() {
  // Column boxes are aligned (constrained layout): same left/right for every row.
  const COL_LEFT = [21.7, 135.7, 257.5, 375, 492.5, 611.7, 727.7];
  const COL_RIGHT = [121, 236, 357, 474.5, 592.3, 710.7, 826];
  const TICK_FS = 7;
  const TITLE_FS = 7.8;
  const LH = 8.3;
  const BOX_H = 89.15;

  const rowLines: number[] = [];
  for (let r = 0; r < 9; r++) {
    let m = 1;
    for (let c = 0; c < 7; c++) m = Math.max(m, titles[r * 7 + c].split("\n").length);
    rowLines.push(m);
  }
  const rowTop: number[] = [17];
  for (let r = 1; r < 9; r++) rowTop.push(rowTop[r - 1] + BOX_H + 4.5 + LH * rowLines[r]);

  const grids: any[] = [];
  const xAxes: any[] = [];
  const yAxes: any[] = [];
  const series: any[] = [];
  const graphics: any[] = [];

  for (let i = 0; i < 63; i++) {
    const r = Math.floor(i / 7);
    const c = i % 7;
    const data = panelSeries[i].map(toPairs);
    let lo = Infinity, hi = -Infinity;
    data.forEach((d) => d.forEach(([, y]) => { if (y < lo) lo = y; if (y > hi) hi = y; }));
    const pad = (hi - lo) * 0.05;
    const ymin = lo - pad, ymax = hi + pad;
    const ticks = yTicks[i].filter((v) => v >= ymin && v <= ymax);
    const left = COL_LEFT[c];
    const right = COL_RIGHT[c];
    const top = rowTop[r];
    const isLast = r === 8;

    grids.push({
      left, top, width: right - left, height: BOX_H,
      show: true, borderColor: "#8a8a8a", borderWidth: 0.9, backgroundColor: "transparent",
      containLabel: false, outerBoundsMode: "none",
    });
    xAxes.push({
      type: "value", gridIndex: i, min: -0.5, max: 10.5,
      axisLine: { show: false }, splitLine: { show: false },
      axisTick: { show: true, length: 2.5, customValues: xTicks, lineStyle: { color: "#555", width: 0.8 } },
      axisLabel: { show: isLast, customValues: xTicks, fontSize: TICK_FS, fontFamily: FONT, color: "#222", margin: 3 },
      name: isLast ? "t" : "", nameLocation: "middle", nameGap: 4,
      nameTextStyle: { fontSize: 12, fontFamily: FONT, color: "#222", verticalAlign: "top", lineHeight: 12 },
    });
    const dec = yDecimals[i];
    yAxes.push({
      type: "value", gridIndex: i, min: ymin, max: ymax, scale: true,
      axisLine: { show: false }, splitLine: { show: false },
      axisTick: { show: true, length: 2.5, customValues: ticks, lineStyle: { color: "#555", width: 0.8 } },
      axisLabel: { customValues: ticks, fontSize: TICK_FS, fontFamily: FONT, color: "#222", margin: 3.5, formatter: (v: number) => fmt(v, dec) },
    });
    data.forEach((d, k) => {
      series.push({
        type: "line", xAxisIndex: i, yAxisIndex: i, data: d,
        showSymbol: false, symbol: "none", smooth: 0.35, smoothMonotone: "x",
        lineStyle: { width: 1.3, color: COLORS[k] }, itemStyle: { color: COLORS[k] },
        clip: true, silent: true, z: 2 + k,
      });
    });
    graphics.push({
      type: "text", x: (left + right) / 2, y: top - 0.3, silent: true,
      style: {
        text: titles[i], fill: "#1a1a1a", fontSize: TITLE_FS, fontFamily: FONT,
        font: `${TITLE_FS}px ${FONT}`,
        align: "center", verticalAlign: "bottom", textAlign: "center", textVerticalAlign: "bottom",
        lineHeight: LH,
      },
    });
  }

  return {
    animation: false,
    backgroundColor: "#ffffff",
    textStyle: { fontFamily: FONT },
    grid: grids,
    xAxis: xAxes,
    yAxis: yAxes,
    series,
    graphic: graphics,
  };
}

export default function App() {
  const ref = useRef<HTMLDivElement>(null);
  useEffect(() => {
    document.body.style.margin = "0";
    const el = ref.current!;
    const chart = echarts.init(el, undefined, { renderer: "svg", width: 830, height: 1068 });
    chart.setOption(buildOption() as any);
    return () => chart.dispose();
  }, []);
  return <div ref={ref} style={{ width: 830, height: 1068 }} />;
}
